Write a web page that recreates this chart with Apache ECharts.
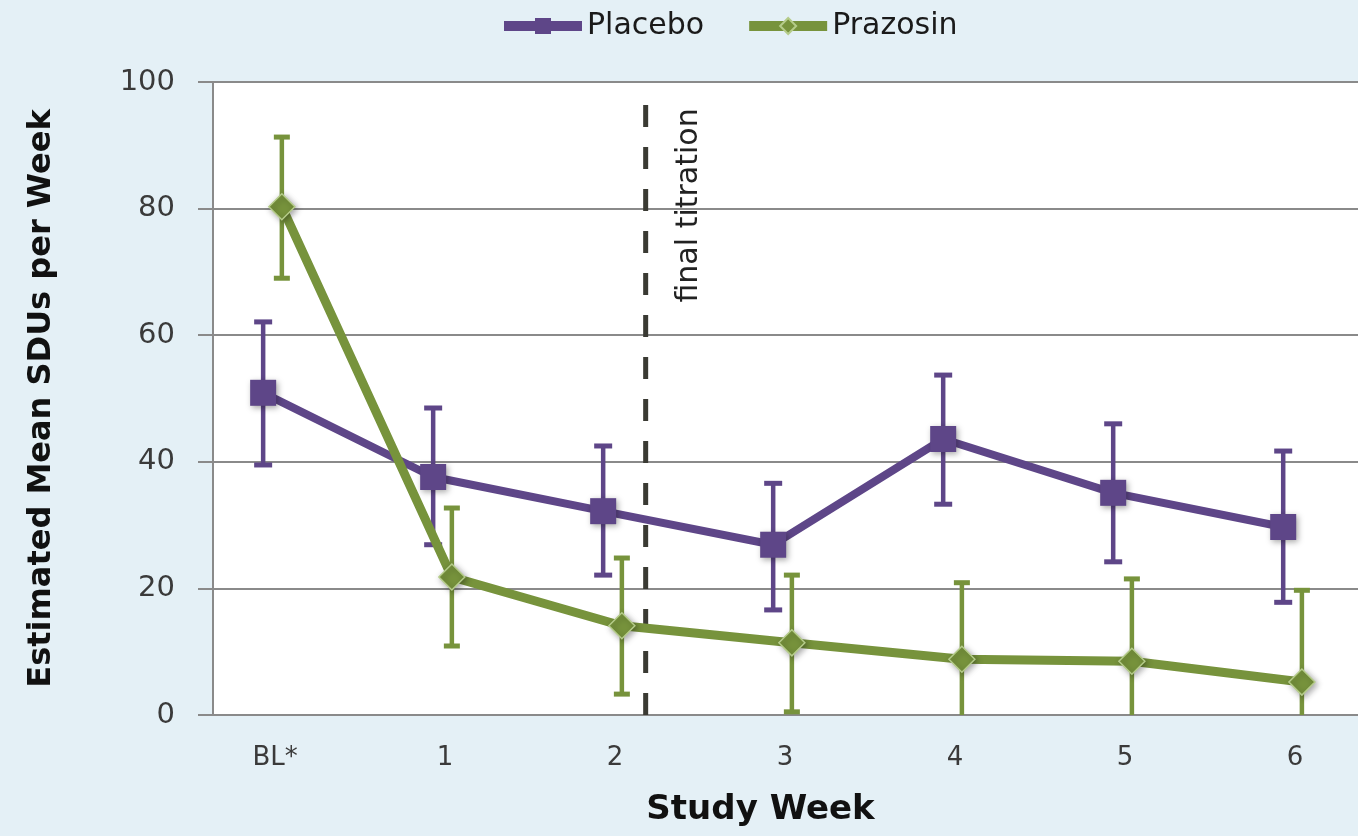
<!DOCTYPE html>
<html>
<head>
<meta charset="utf-8">
<script src="https://cdn.jsdelivr.net/npm/echarts@6/dist/echarts.min.js"></script>
<style>
html,body{margin:0;padding:0;background:#E4F0F6;}
#chart{width:1358px;height:836px;}
</style>
</head>
<body>
<div id="chart"></div>
<script>
const categories = ['BL*', '1', '2', '3', '4', '5', '6'];
const placeboMean = [50.9, 37.6, 32.2, 26.9, 43.6, 35.1, 29.7];
const placeboLow  = [39.5, 26.9, 22.1, 16.6, 33.3, 24.2, 17.8];
const placeboHigh = [62.1, 48.5, 42.5, 36.6, 53.7, 46.0, 41.7];
const prazosinMean = [80.3, 21.8, 14.1, 11.4, 8.8, 8.5, 5.2];
const prazosinLow  = [69.0, 10.9, 3.3, 0.5, 0, 0, 0];
const prazosinHigh = [91.3, 32.7, 24.8, 22.1, 20.9, 21.5, 19.7];
const yTicks = [0, 20, 40, 60, 80, 100];
const titrationWeek = 2.18;
const titrationTop = 98.6;
const titrationLabel = 'final titration';

const PURPLE = '#5E4688';
const GREEN = '#77933C';
const GRID = '#8A8A8A';
const placeboOffset = -0.07;
const prazosinOffset = 0.04;

function linePts(mean, off) { return mean.map((v, i) => [i + off, v]); }
function errPts(lo, hi, off) { return lo.map((v, i) => [i + off, v, hi[i]]); }

function errRender(color, cap) {
  return function (params, api) {
    const x = api.value(0);
    const lov = api.value(1);
    const lo = api.coord([x, lov]);
    const hi = api.coord([x, api.value(2)]);
    const children = [
      {type: 'line', shape: {x1: lo[0], y1: lo[1], x2: hi[0], y2: hi[1]}, style: {stroke: color, lineWidth: 4.5}},
      {type: 'line', shape: {x1: hi[0] - cap, y1: hi[1], x2: hi[0] + cap, y2: hi[1]}, style: {stroke: color, lineWidth: 5}}
    ];
    if (lov > 0.2) {
      children.push({type: 'line', shape: {x1: lo[0] - cap, y1: lo[1], x2: lo[0] + cap, y2: lo[1]}, style: {stroke: color, lineWidth: 5}});
    }
    return {type: 'group', children: children};
  };
}

const chart = echarts.init(document.getElementById('chart'));
const shadow = {shadowBlur: 6, shadowColor: 'rgba(0,0,0,0.35)', shadowOffsetX: 2, shadowOffsetY: 2};

chart.setOption({
  backgroundColor: '#E4F0F6',
  animation: false,
  legend: {
    top: 6,
    left: 494,
    itemWidth: 78,
    itemHeight: 20,
    itemGap: 40,
    textStyle: {fontFamily: 'DejaVu Sans', fontSize: 30, color: '#1a1a1a', padding: [0, 0, 0, 0]},
    data: [
      {name: 'Placebo', lineStyle: {width: 10}},
      {name: 'Prazosin', lineStyle: {width: 10}}
    ]
  },
  grid: {left: 213, right: 0, top: 82, bottom: 121, show: true, backgroundColor: '#FFFFFF', borderWidth: 0},
  xAxis: {
    type: 'value',
    min: -0.365,
    max: 6.37,
    splitLine: {show: false},
    axisLine: {show: true, onZero: false, lineStyle: {color: GRID, width: 2}},
    axisTick: {show: false},
    axisLabel: {
      customValues: categories.map((c, i) => i),
      formatter: v => categories[Math.round(v)],
      fontFamily: 'DejaVu Sans', fontSize: 26, color: '#3a3a3a', margin: 30
    },
    name: 'Study Week',
    nameLocation: 'middle',
    nameGap: 78,
    nameTextStyle: {fontFamily: 'DejaVu Sans', fontWeight: 'bold', fontSize: 34, color: '#111', padding: [0, 50, 0, 0]}
  },
  yAxis: {
    type: 'value',
    min: 0,
    max: 100,
    interval: 20,
    axisLine: {show: true, onZero: false, lineStyle: {color: GRID, width: 2}},
    axisTick: {show: true, length: 15, lineStyle: {color: GRID, width: 2}},
    splitLine: {show: true, lineStyle: {color: GRID, width: 2}},
    axisLabel: {
      formatter: v => (yTicks.indexOf(v) >= 0 ? String(v) : ''),
      fontFamily: 'DejaVu Sans', fontSize: 29, color: '#3a3a3a', margin: 38
    },
    name: 'Estimated Mean SDUs per Week',
    nameLocation: 'middle',
    nameGap: 155,
    nameTextStyle: {fontFamily: 'DejaVu Sans', fontWeight: 'bold', fontSize: 32, color: '#111'}
  },
  series: [
    {
      type: 'custom',
      name: 'titration',
      silent: true,
      z: 1,
      data: [[titrationWeek, 0, titrationTop]],
      renderItem: function (params, api) {
        const x = api.value(0);
        const b = api.coord([x, api.value(1)]);
        const t = api.coord([x, api.value(2)]);
        const mid = api.coord([x, 80.5]);
        return {type: 'group', children: [
          {type: 'line', shape: {x1: b[0], y1: b[1], x2: t[0], y2: t[1]},
           style: {stroke: '#3A3A33', lineWidth: 5, lineDash: [22, 20]}},
          {type: 'text', x: mid[0] + 44, y: mid[1], rotation: Math.PI / 2,
           style: {text: titrationLabel, fontFamily: 'DejaVu Sans', fontSize: 30,
                   fill: '#222', align: 'center', verticalAlign: 'middle'}}
        ]};
      }
    },
    {
      type: 'custom', name: 'placeboErr', silent: true, z: 2,
      data: errPts(placeboLow, placeboHigh, placeboOffset),
      renderItem: errRender(PURPLE, 9)
    },
    {
      type: 'line', name: 'Placebo', z: 3,
      data: linePts(placeboMean, placeboOffset),
      symbol: 'rect', symbolSize: 26,
      color: PURPLE,
      lineStyle: {color: PURPLE, width: 8},
      itemStyle: Object.assign({color: PURPLE}, shadow)
    },
    {
      type: 'custom', name: 'prazosinErr', silent: true, z: 4,
      data: errPts(prazosinLow, prazosinHigh, prazosinOffset),
      renderItem: errRender(GREEN, 8)
    },
    {
      type: 'line', name: 'Prazosin', z: 5,
      data: linePts(prazosinMean, prazosinOffset),
      symbol: 'diamond', symbolSize: 26,
      color: GREEN,
      lineStyle: {color: GREEN, width: 9},
      itemStyle: Object.assign({color: GREEN, borderColor: '#B5CC8A', borderWidth: 1.5}, shadow)
    }
  ]
});
</script>
</body>
</html>
